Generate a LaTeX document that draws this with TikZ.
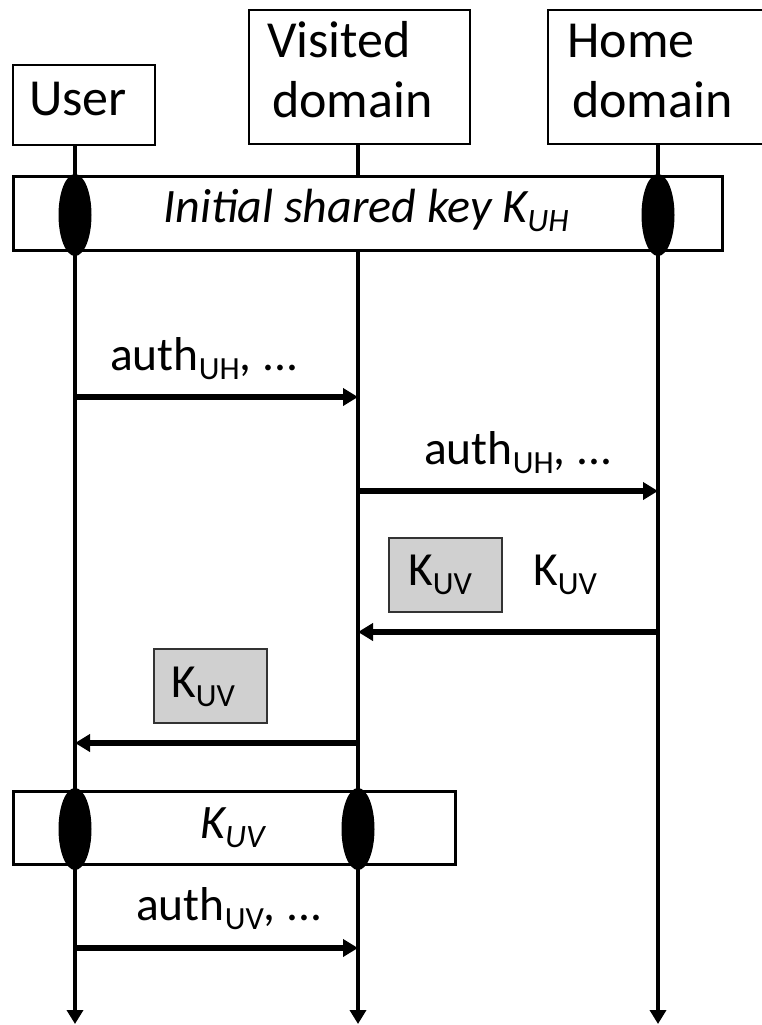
\documentclass[tikz,border=0pt]{standalone}
\usepackage{fontspec}
\setmainfont{Carlito}
\usepackage{graphicx}
\usetikzlibrary{arrows.meta,shapes.geometric}
% lowered, reduced-size index as used in the key names
\newcommand{\lowsub}[1]{\raisebox{-0.19em}{\scalebox{0.68}{#1}}}
\definecolor{keygray}{HTML}{D0D0D0}
\definecolor{keyedge}{HTML}{333333}
\begin{document}
\begin{tikzpicture}[x=1pt,y=-1pt,
  party/.style={draw=black, line width=2.4pt, fill=white, inner sep=0pt, anchor=north west},
  partytext/.style={anchor=base west, inner sep=0pt, font=\fontsize{52}{62}\selectfont},
  lbl/.style={anchor=base west, inner sep=0pt, font=\fontsize{47.5}{57}\selectfont},
  life/.style={line width=4.6pt, -{Triangle[length=14pt,width=16pt]}},
  msg/.style={line width=5.5pt, -{Triangle[length=15pt,width=17pt]}},
  band/.style={draw=black, line width=2.6pt, fill=white, inner sep=0pt, anchor=north west},
  seal/.style={ellipse, fill=black, inner sep=0pt, minimum width=33pt, minimum height=82pt},
  keybox/.style={draw=keyedge, line width=2pt, fill=keygray, inner sep=0pt, anchor=north west,
    minimum width=113pt, minimum height=74pt},
]
\useasboundingbox (0,0) rectangle (761,1025);

% participants
\node[party, minimum width=142pt, minimum height=80pt] (user) at (12,64) {};
\node[party, minimum width=221pt, minimum height=134pt] (visited) at (248,9) {};
\node[party, minimum width=230pt, minimum height=134pt] (home) at (547,9) {};
\node[partytext] (userT) at (29,115) {User};
\node[partytext] (visT1) at (267,58) {Visited};
\node[partytext] (visT2) at (272,117) {domain};
\node[partytext] (homeT1) at (567,58) {Home};
\node[partytext] (homeT2) at (572,117) {domain};

% lifeline end points
\coordinate (uTop) at (75,144);   \coordinate (uEnd) at (75,1024);
\coordinate (vTop) at (358,144);  \coordinate (vEnd) at (358,1024);
\coordinate (hTop) at (658,144);  \coordinate (hEnd) at (658,1024);
\draw[life] (uTop) -- (uEnd);
\draw[life] (vTop) -- (vEnd);
\draw[life] (hTop) -- (hEnd);

% initial shared key between user and home domain
\node[band, minimum width=709pt, minimum height=74pt] (kuh) at (12,175) {};
\node[seal] (sealU1) at (75,215) {};
\node[seal] (sealH1) at (658,215) {};
\node[lbl, anchor=base, font=\fontsize{48}{58}\selectfont\itshape] (kuhT) at (366,222)
  {Initial shared key K\lowsub{UH}};

% message points on the lifelines
\coordinate (u1) at (75,397);  \coordinate (v1) at (358,397);
\coordinate (v2) at (358,491); \coordinate (h2) at (658,491);
\coordinate (h3) at (658,632); \coordinate (v3) at (358,632);
\coordinate (v4) at (358,743); \coordinate (u4) at (75,743);
\coordinate (u5) at (75,948);  \coordinate (v5) at (358,948);

\draw[msg] (u1) -- (v1);
\node[lbl] (m1) at (110,370) {auth\lowsub{UH}, ...};

\draw[msg] (v2) -- (h2);
\node[lbl] (m2) at (424,464) {auth\lowsub{UH}, ...};

\node[keybox] (kb1) at (388,537) {};
\node[lbl] (kb1T) at (408,585) {K\lowsub{UV}};
\node[lbl] (m3) at (533,585) {K\lowsub{UV}};
\draw[msg] (h3) -- (v3);

\node[keybox] (kb2) at (153,648) {};
\node[lbl] (kb2T) at (171,697) {K\lowsub{UV}};
\draw[msg] (v4) -- (u4);

% session key between user and visited domain
\node[band, minimum width=442pt, minimum height=73pt] (kuv) at (12,790) {};
\node[seal] (sealU2) at (75,829) {};
\node[seal] (sealV2) at (358,829) {};
\node[lbl, font=\fontsize{48}{58}\selectfont\itshape] (kuvT) at (200,838) {K\lowsub{UV}};

\draw[msg] (u5) -- (v5);
\node[lbl] (m5) at (136,920) {auth\lowsub{UV}, ...};
\end{tikzpicture}
\end{document}
